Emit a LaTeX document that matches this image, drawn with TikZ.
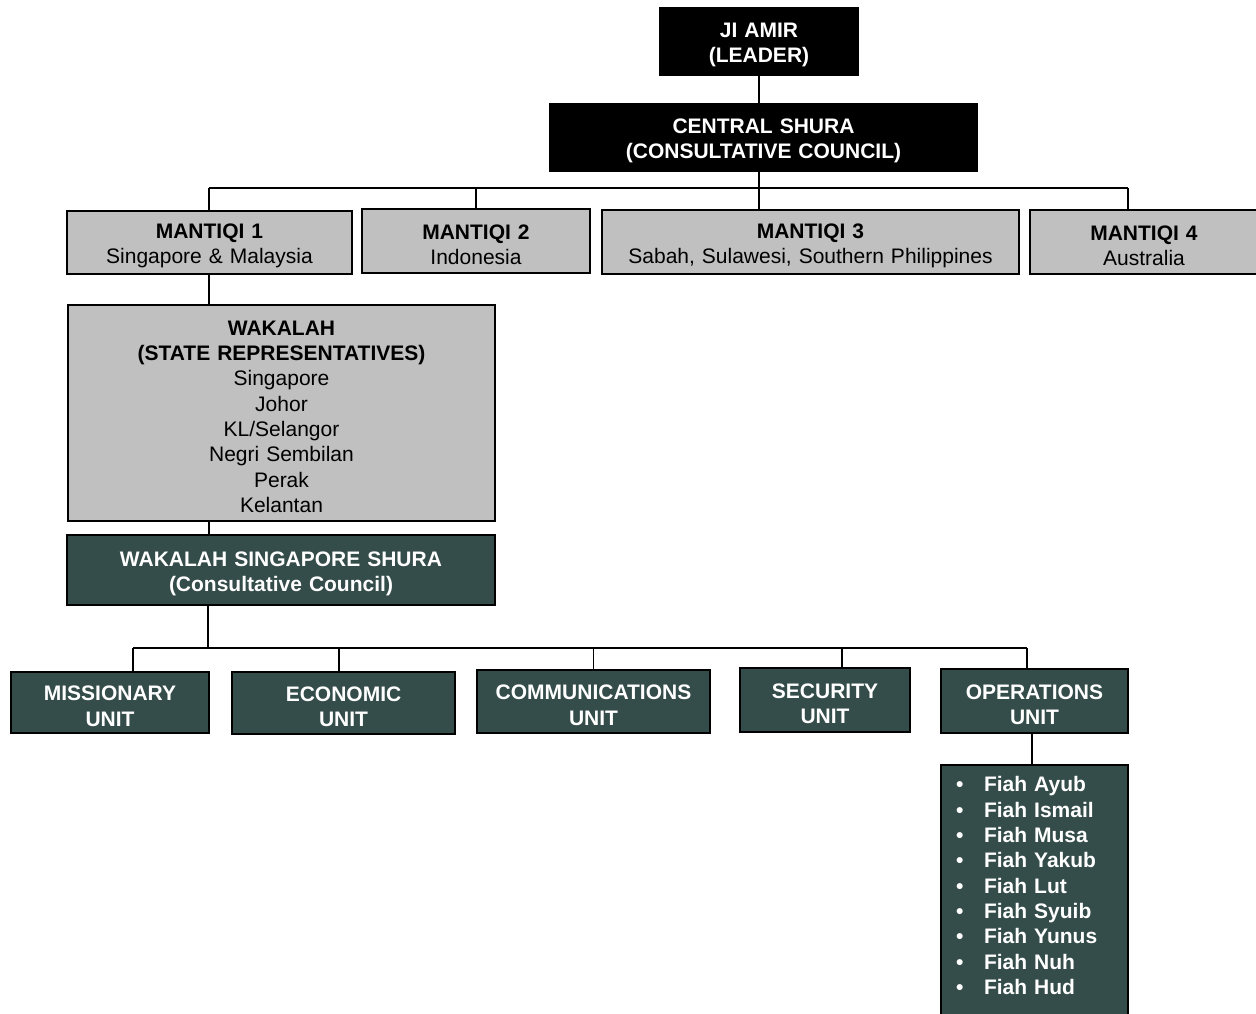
\documentclass[tikz,border=0pt]{standalone}
\usepackage{fontspec}
\setmainfont{Liberation Sans}
\definecolor{boxgray}{HTML}{C0C0C0}
\definecolor{unitgreen}{HTML}{344D4A}
\begin{document}
\begin{tikzpicture}[x=1pt, y=-1pt,
    box/.style 2 args={draw=black, line width=1.6pt, inner sep=0pt, align=center,
      text width=#1, minimum height=#2,
      font=\fontsize{21}{25.3}\selectfont,
      execute at begin node={\rule{0pt}{22pt}}},
    leaderbox/.style 2 args={box={#1}{#2}, fill=black, text=white,
      font=\bfseries\fontsize{21}{25.3}\selectfont},
    regionbox/.style 2 args={box={#1}{#2}, fill=boxgray, text=black},
    unitbox/.style 2 args={box={#1}{#2}, fill=unitgreen, text=white,
      font=\bfseries\fontsize{21}{25.3}\selectfont},
    link/.style={draw=black, line width=1.6pt}]
    % 範囲
    \path[use as bounding box] (0,0) rectangle (1256,1013);
    \clip (0,0) rectangle (1256,1013);

    % 上部
    \node[leaderbox={198}{67}] (amir) at (759,41.5) {JI AMIR\\(LEADER)};
    \node[leaderbox={427}{67}] (cshura) at (763.5,137.5)
      {CENTRAL SHURA\\(CONSULTATIVE COUNCIL)};

    % マンティキ
    \node[regionbox={285}{63}] (m1) at (209.5,242.5)
      {\textbf{MANTIQI 1}\\Singapore \& Malaysia};
    \node[regionbox={228}{64}] (m2) at (476,241)
      {\textbf{MANTIQI 2}\\Indonesia};
    \node[regionbox={417}{64}] (m3) at (810.5,242)
      {\textbf{MANTIQI 3}\\Sabah, Sulawesi, Southern Philippines};
    \node[regionbox={228}{64}] (m4) at (1144,242)
      {\textbf{MANTIQI 4}\\Australia};

    % ワカラ
    \node[regionbox={427}{216}] (wakalah) at (281.5,413)
      {\textbf{WAKALAH}\\\textbf{(STATE REPRESENTATIVES)}\\Singapore\\Johor\\
       KL/Selangor\\Negri Sembilan\\Perak\\Kelantan};
    \node[unitbox={428}{70}] (wshura) at (281,570)
      {WAKALAH SINGAPORE SHURA\\(Consultative Council)};

    % ユニット
    \node[unitbox={198}{61}] (mission) at (110,702.5) {MISSIONARY\\UNIT};
    \node[unitbox={223}{62}] (econ) at (343.5,703) {ECONOMIC\\UNIT};
    \node[unitbox={233}{63}] (comms) at (593.5,701.5) {COMMUNICATIONS\\UNIT};
    \node[unitbox={170}{64}] (secur) at (825,700) {SECURITY\\UNIT};
    \node[unitbox={187}{64}] (ops) at (1034.5,701) {OPERATIONS\\UNIT};

    % フィア
    \node[unitbox={157}{260}, anchor=north, align=left, inner xsep=15]
      (fiah) at (1034.5,764)
      {\makebox[28pt][l]{\textbullet}Fiah Ayub\\
       \makebox[28pt][l]{\textbullet}Fiah Ismail\\
       \makebox[28pt][l]{\textbullet}Fiah Musa\\
       \makebox[28pt][l]{\textbullet}Fiah Yakub\\
       \makebox[28pt][l]{\textbullet}Fiah Lut\\
       \makebox[28pt][l]{\textbullet}Fiah Syuib\\
       \makebox[28pt][l]{\textbullet}Fiah Yunus\\
       \makebox[28pt][l]{\textbullet}Fiah Nuh\\
       \makebox[28pt][l]{\textbullet}Fiah Hud\\
       \mbox{}};

    % 接続線
    \coordinate (busL) at (209,188);
    \coordinate (busR) at (1128,188);
    \coordinate (unitL) at (133,648);
    \coordinate (unitR) at (1027,648);

    \draw[link] (amir.south) -- (cshura.north -| amir.south);
    \draw[link] (cshura.south -| amir.south) -- (m3.north -| amir.south);
    \draw[link] (busL) -- (busR);
    \draw[link] (busL) -- (busL |- m1.north);
    \draw[link] (busL -| m2.north) -- (m2.north);
    \draw[link] (busR) -- (busR |- m4.north);

    \draw[link] (m1.south -| busL) -- (wakalah.north -| busL);
    \draw[link] (wakalah.south -| busL) -- (wshura.north -| busL);
    \draw[link] (wshura.south -| 208,0) -- (unitL -| 208,0);

    \draw[link] (unitL) -- (unitR);
    \draw[link] (unitL) -- (unitL |- mission.north);
    \draw[link] (unitL -| 339,0) -- (econ.north -| 339,0);
    \draw[link] (unitL -| comms.north) -- (comms.north);
    \draw[link] (unitL -| 842,0) -- (secur.north -| 842,0);
    \draw[link] (unitR) -- (unitR |- ops.north);
    \draw[link] (ops.south -| 1032,0) -- (fiah.north -| 1032,0);
\end{tikzpicture}
\end{document}
